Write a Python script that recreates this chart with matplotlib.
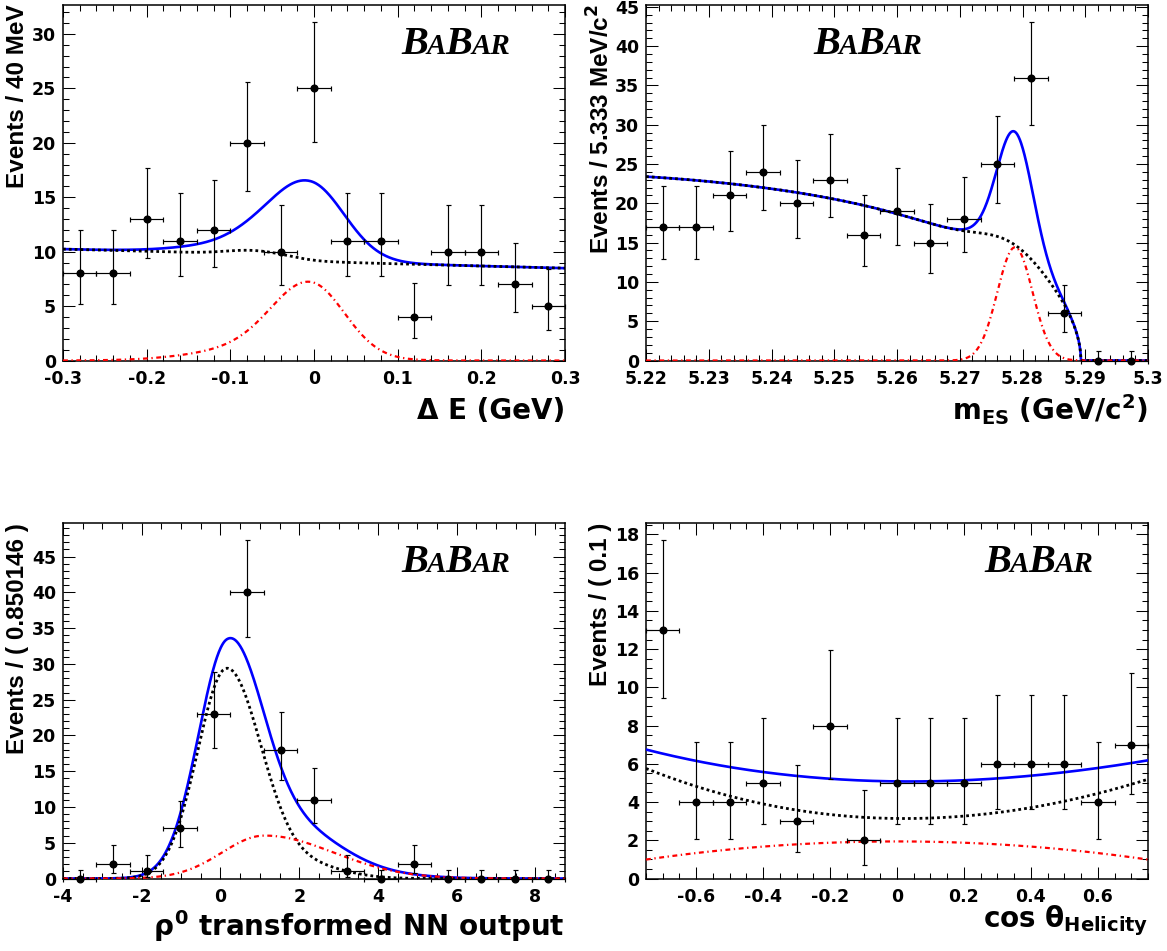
import math
import numpy as np
import matplotlib
matplotlib.use("Agg")
import matplotlib.pyplot as plt
from matplotlib.ticker import MultipleLocator, FuncFormatter

plt.rcParams.update({
    "axes.unicode_minus": False,
    "font.family": "DejaVu Sans",
    "font.weight": "bold",
    "mathtext.fontset": "custom",
    "mathtext.rm": "DejaVu Sans:bold",
    "mathtext.it": "DejaVu Sans:bold",
    "mathtext.bf": "DejaVu Sans:bold",
    "mathtext.sf": "DejaVu Sans:bold",
})

# ---------------- data (binned event counts) ----------------
de_range = (-0.3, 0.3)
de_counts = [8, 8, 13, 11, 12, 20, 10, 25, 11, 11, 4, 10, 10, 7, 5]

mes_range = (5.22, 5.30)
mes_counts = [17, 17, 21, 24, 20, 23, 16, 19, 15, 18, 25, 36, 6, 0, 0]

nn_range = (-4.0, -4.0 + 15 * 0.850146)
nn_counts = [0, 2, 1, 7, 23, 40, 18, 11, 1, 0, 2, 0, 0, 0, 0]

hel_range = (-0.75, 0.75)
hel_counts = [13, 4, 4, 5, 3, 8, 2, 5, 5, 5, 6, 6, 6, 4, 7]

# ---------------- fit-curve parameters ----------------
# Delta E
de_sig_core = (6.4, -0.004, 0.045, 0.041)     # amp, mean, sigma_left, sigma_right
de_sig_tail = (1.2, -0.065, 0.07)
de_bkg_lin = (9.08, -2.0)
de_bkg_step = (0.55, -0.02, 0.03)
de_bkg_bump = (0.35, -0.075, 0.03)
# mES
mes_argus = (23.4, 5.2893, -13.5)             # value at 5.22, endpoint, shape
mes_bkg_bump = (2.4, 5.2785, 0.0052)
mes_sig = (14.4, 5.2788, 0.0028)
# NN output
nn_bkg = (29.3, 0.16, 0.74, 0.88)
nn_bkg_tail = (1.6, 2.3, 0.9)
nn_sig = (6.0, 1.12, 1.08, 1.75)
# helicity
hel_bkg_poly = [3.14, -0.19, 4.15, -0.33]
hel_sig = (1.94, 0.87)

ymax = [32.7, 45.3, 49.7, 18.6]


def gauss(x, a, mu, s):
    return a * np.exp(-0.5 * ((x - mu) / s) ** 2)


def bifur(x, a, mu, sl, sr):
    s = np.where(x < mu, sl, sr)
    return a * np.exp(-0.5 * ((x - mu) / s) ** 2)


def pois_cdf(n, mu):
    if n < 0:
        return 0.0
    return sum(math.exp(-mu + k * math.log(mu) - math.lgamma(k + 1)) for k in range(n + 1))


def bisect(f, lo, hi):
    flo = f(lo)
    for _ in range(100):
        mid = 0.5 * (lo + hi)
        fm = f(mid)
        if (fm > 0) == (flo > 0):
            lo, flo = mid, fm
        else:
            hi = mid
    return 0.5 * (lo + hi)


def poisson_interval(n):
    alpha = 0.5 * (1 - 0.682689)
    if n == 0:
        return 0.0, -math.log(1 - 0.682689)
    lo = bisect(lambda m: pois_cdf(n - 1, max(m, 1e-12)) - (1 - alpha), 1e-9, n)
    hi = bisect(lambda m: pois_cdf(n, m) - alpha, n, n + 10 * math.sqrt(n) + 10)
    return lo, hi


W, H = 1167, 951
fig = plt.figure(figsize=(W / 100, H / 100), dpi=100)


def add_axes(l, r, t, b):
    return fig.add_axes([l / W, 1 - b / H, (r - l) / W, (b - t) / H])


def fmt(v, p):
    v = round(v, 6)
    s = "%g" % v
    return "0" if s == "-0" else s


def style(ax, xr, yr, xmaj, xmin, ymaj, ymin):
    ax.set_xlim(*xr)
    ax.set_ylim(*yr)
    ax.xaxis.set_major_locator(MultipleLocator(xmaj))
    ax.xaxis.set_minor_locator(MultipleLocator(xmin))
    ax.yaxis.set_major_locator(MultipleLocator(ymaj))
    ax.yaxis.set_minor_locator(MultipleLocator(ymin))
    ax.xaxis.set_major_formatter(FuncFormatter(fmt))
    ax.yaxis.set_major_formatter(FuncFormatter(fmt))
    ax.tick_params(which="both", direction="in", top=True, right=True, width=0.75,
                   labelsize=12.5)
    ax.tick_params(which="major", length=8.6)
    ax.tick_params(which="minor", length=4.3)
    ax.tick_params(axis="x", pad=6.5)
    ax.tick_params(axis="y", pad=5)
    for lab in ax.get_xticklabels() + ax.get_yticklabels():
        lab.set_fontweight("bold")
    for s in ax.spines.values():
        s.set_linewidth(1.1)


def draw_data(ax, rng, counts):
    n = len(counts)
    edges = np.linspace(rng[0], rng[1], n + 1)
    xc = 0.5 * (edges[:-1] + edges[1:])
    hw = 0.5 * (edges[1] - edges[0])
    lo, hi = [], []
    for c in counts:
        a, b = poisson_interval(c)
        lo.append(c - a)
        hi.append(b - c)
    cont = ax.errorbar(xc, counts, xerr=hw, yerr=[lo, hi], fmt="o", color="black",
                       ms=4.8, elinewidth=0.85, capsize=1.8, capthick=0.85, zorder=6)
    for art in cont.get_children():
        art.set_clip_on(False)


def draw_curves(ax, x, total, bkg, sig):
    ax.plot(x, total, color="#0000ff", lw=1.9, zorder=3)
    ax.plot(x, bkg, color="black", lw=2.0, ls=(0, (1, 1.1)), zorder=4)
    ax.plot(x, sig, color="#ff0000", lw=1.6, ls=(0, (2.2, 1.6, 0.6, 1.6)), zorder=5)


def set_labels(ax, xlabel, xoff, ylabel, axh, axw):
    ax.set_xlabel(xlabel, fontsize=20, fontweight="bold", ha="right", va="baseline")
    ax.xaxis.set_label_coords(1.0, -xoff / axh)
    ax.set_ylabel(ylabel, fontsize=17.5, fontweight="bold", family="Liberation Sans",
                  ha="right", va="center")
    ax.yaxis.set_label_coords(-45 / axw, 1.0)


def babar(x_px, base_px):
    r = fig.canvas.get_renderer()
    x = x_px
    for s, fs in [("B", 29), ("A", 21), ("B", 29), ("AR", 21)]:
        t = fig.text(x / W, 1 - base_px / H, s, fontsize=fs, family="Liberation Serif",
                     weight="bold", style="italic", ha="left", va="baseline")
        bb = t.get_window_extent(renderer=r)
        x = bb.x1 - 1


# ---------------- panel 1: Delta E ----------------
ax1 = add_axes(63, 565, 4.5, 360.5)
x = np.linspace(de_range[0], de_range[1], 800)
sig = bifur(x, *de_sig_core) + gauss(x, *de_sig_tail)
bkg = (de_bkg_lin[0] + de_bkg_lin[1] * x
       + de_bkg_step[0] * 0.5 * (1 - np.tanh((x - de_bkg_step[1]) / de_bkg_step[2]))
       + gauss(x, *de_bkg_bump))
draw_curves(ax1, x, bkg + sig, bkg, sig)
draw_data(ax1, de_range, de_counts)
style(ax1, de_range, (0, ymax[0]), 0.1, 0.02, 5, 1)
set_labels(ax1, "\u0394 E (GeV)", 59, "Events / 40 MeV", 356, 502)
babar(401, 53.5)

# ---------------- panel 2: mES ----------------
ax2 = add_axes(646, 1148, 4.5, 360.5)
x = np.linspace(mes_range[0], mes_range[1], 1200)
a0, m0, c = mes_argus
t = np.clip(1 - (x / m0) ** 2, 0, None)
t0 = 1 - (mes_range[0] / m0) ** 2
argus = a0 * np.sqrt(t) * np.exp(c * t) / (np.sqrt(t0) * np.exp(c * t0))
bump = gauss(x, *mes_bkg_bump) * np.clip(np.sqrt(t) / 0.03, 0, 1)
bkg = argus + bump
sig = gauss(x, *mes_sig)
draw_curves(ax2, x, bkg + sig, bkg, sig)
draw_data(ax2, mes_range, mes_counts)
style(ax2, mes_range, (0, ymax[1]), 0.01, 0.002, 5, 1)
set_labels(ax2, r"m$_{ES}$ (GeV/c$^{2}$)", 60, r"Events / 5.333 MeV/c$^{2}$", 356, 502)
babar(813, 53.5)

# ---------------- panel 3: NN output ----------------
ax3 = add_axes(63, 565, 523, 878.5)
x = np.linspace(nn_range[0], nn_range[1], 800)
bkg = bifur(x, *nn_bkg) + gauss(x, *nn_bkg_tail)
sig = bifur(x, *nn_sig)
draw_curves(ax3, x, bkg + sig, bkg, sig)
draw_data(ax3, nn_range, nn_counts)
style(ax3, nn_range, (0, ymax[2]), 2, 0.5, 5, 1)
set_labels(ax3, r"$\rho^{0}$ transformed NN output", 57, "Events / ( 0.850146 )", 355.5, 502)
babar(401, 572)

# ---------------- panel 4: helicity ----------------
ax4 = add_axes(646, 1148, 523, 878.5)
x = np.linspace(hel_range[0], hel_range[1], 800)
bkg = sum(cf * x ** i for i, cf in enumerate(hel_bkg_poly))
sig = hel_sig[0] * (1 - hel_sig[1] * x ** 2)
draw_curves(ax4, x, bkg + sig, bkg, sig)
draw_data(ax4, hel_range, hel_counts)
style(ax4, hel_range, (0, ymax[3]), 0.2, 0.05, 2, 0.5)
set_labels(ax4, r"cos $\theta_{Helicity}$", 49, "Events / ( 0.1 )", 355.5, 502)
babar(984, 572)

fig.savefig("out.png", dpi=100)
